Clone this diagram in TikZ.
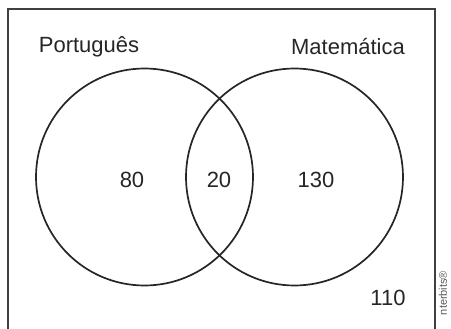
\documentclass[tikz,border=0pt]{standalone}
\usepackage{fontspec}
\setmainfont{Liberation Sans}
\begin{document}
\begin{tikzpicture}[x=1pt,y=-1pt,
  setc/.style={draw=black!85,line width=1.7pt,circle,minimum size=217pt,inner sep=0pt},
  lbl/.style={font=\fontsize{22}{25}\selectfont,text=black!85,inner sep=0pt},
  frame/.style={draw=black!75,line width=1.6pt}]
\useasboundingbox (0,0) rectangle (451,329);
\draw[frame] (8,329) -- (8,9) -- (435,9) -- (435,329);
\node[setc] (P) at (144.5,177) {};
\node[setc] (M) at (294.5,177) {};
\node[lbl] (tP) at (89,47) {Português};
\node[lbl] (tM) at (348,47) {Matemática};
\node[lbl] (n80) at (132,180) {80};
\node[lbl] (n20) at (219,180) {20};
\node[lbl] (n130) at (316,180) {130};
\node[lbl] (n110) at (388,298) {110};
\node[font=\fontsize{11}{12}\selectfont,text=black!65,rotate=90,inner sep=0pt] (cr) at (443,293) {nterbits®};
\end{tikzpicture}
\end{document}
